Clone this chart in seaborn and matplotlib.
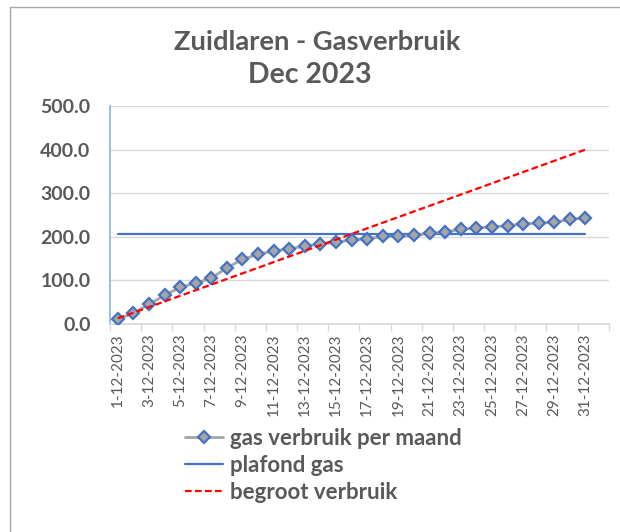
import matplotlib
matplotlib.use('Agg')
import matplotlib.pyplot as plt
import pandas as pd
import seaborn as sns

sns.set_theme(style='white')
plt.rcParams['font.family'] = ['Lato', 'DejaVu Sans']

# data
dagen = list(range(1, 32))
gas_verbruik = [11, 25, 45, 66, 84, 94, 105, 129, 148, 160, 167, 173, 178, 184, 187, 193,
                195, 201, 201, 203, 208, 211, 217, 220, 223, 225, 230, 231, 233, 240, 243]
plafond = [207] * 31
begroot = [12.9, 25.8, 38.7, 51.6, 64.5, 77.4, 90.3, 103.2, 116.1, 129.0, 141.9, 154.8,
           167.7, 180.6, 193.5, 206.5, 219.4, 232.3, 245.2, 258.1, 271.0, 283.9, 296.8,
           309.7, 322.6, 335.5, 348.4, 361.3, 374.2, 387.1, 400.0]
datum_labels = [f'{d}-12-2023' for d in dagen]

df = pd.DataFrame({'dag': dagen, 'gas': gas_verbruik, 'plafond': plafond, 'begroot': begroot})

grijs = '#595959'
fig = plt.figure(figsize=(6.2, 5.32), dpi=100)
ax = fig.add_axes([0.1774, 0.391, 0.8046, 0.4098])

sns.lineplot(data=df, x='dag', y='gas', ax=ax, color='#A5A5A5', lw=2,
             marker='D', markersize=6.5, markerfacecolor='#A5A5A5',
             markeredgecolor='#4472C4', markeredgewidth=1.6,
             label='gas verbruik per maand', zorder=4)
sns.lineplot(data=df, x='dag', y='plafond', ax=ax, color='#4472C4', lw=1.6,
             label='plafond gas', zorder=3)
sns.lineplot(data=df, x='dag', y='begroot', ax=ax, color='#FF0000', lw=1.6,
             linestyle=(0, (3, 1.5)), label='begroot verbruik', zorder=5)

# 32 categorieen op de as (laatste leeg), zoals in het origineel
ax.set_xlim(0.5, 32.5)
ax.set_ylim(0, 500)
ax.set_xlabel('')
ax.set_ylabel('')
ax.set_yticks([0, 100, 200, 300, 400, 500])
ax.set_yticklabels([f'{v:.1f}' for v in [0, 100, 200, 300, 400, 500]],
                   fontsize=14, fontweight='bold', color=grijs)
ax.yaxis.grid(True, color='#D9D9D9', lw=1)
ax.tick_params(axis='y', length=0, pad=14)

ax.set_xticks(dagen[::2])
ax.set_xticklabels(datum_labels[::2], rotation=90, fontsize=11, color=grijs)
ax.set_xticks([0.5 + 2 * i for i in range(17)], minor=True)
ax.tick_params(axis='x', which='major', length=0, pad=7)
ax.tick_params(axis='x', which='minor', length=5, color='#D9D9D9', width=1, bottom=True)

for s in ['top', 'right']:
    ax.spines[s].set_visible(False)
ax.spines['left'].set_color('#8EB4E3')
ax.spines['bottom'].set_color('#D9D9D9')

h, l = ax.get_legend_handles_labels()
ax.get_legend().remove()
fig.legend(h, l, loc='upper left', bbox_to_anchor=(0.266, 0.234), frameon=False,
           prop={'weight': 'bold', 'size': 16}, labelcolor=grijs,
           handlelength=1.7, handletextpad=0.35, labelspacing=0.28)

fig.text(0.511, 0.921, 'Zuidlaren - Gasverbruik', ha='center', va='center',
         fontsize=19.7, fontweight='bold', color=grijs)
fig.text(0.5, 0.859, 'Dec 2023', ha='center', va='center',
         fontsize=20.5, fontweight='bold', color=grijs)

# rand van het grafiekgebied
fig.add_artist(plt.Line2D([10 / 620, 10 / 620], [0, 1 - 7 / 532], color='#A6A6A6', lw=1,
                          transform=fig.transFigure))
fig.add_artist(plt.Line2D([10 / 620, 1], [1 - 7 / 532, 1 - 7 / 532], color='#A6A6A6', lw=1,
                          transform=fig.transFigure))

fig.savefig('out.png', dpi=100)
